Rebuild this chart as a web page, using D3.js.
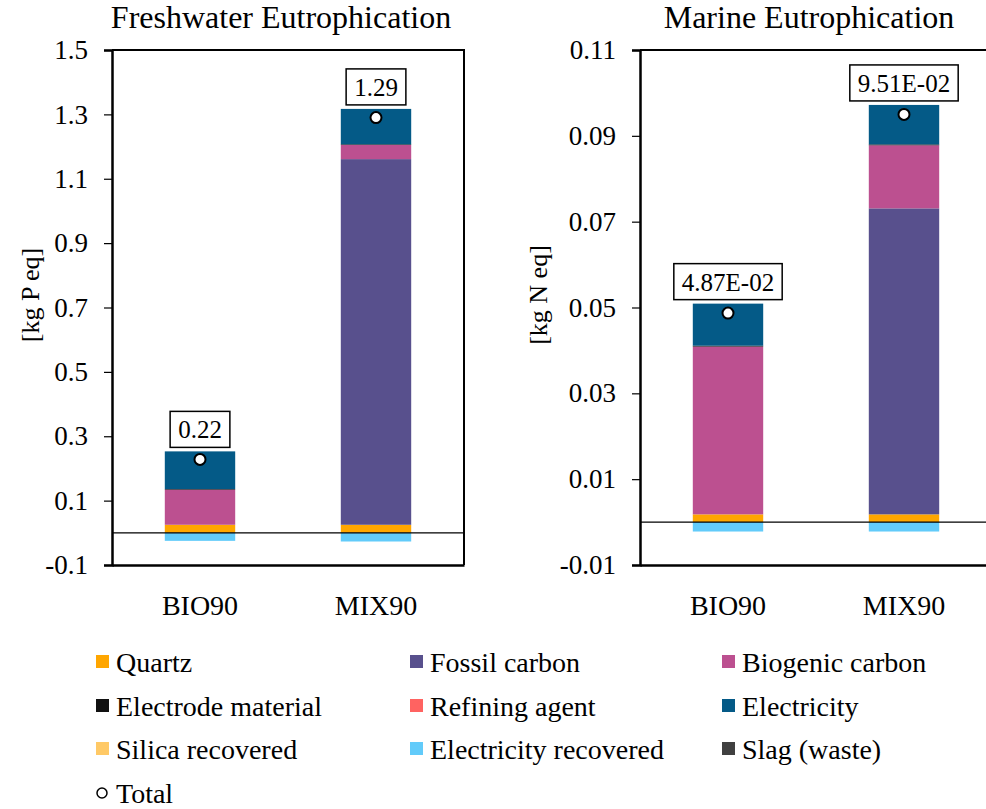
<!DOCTYPE html>
<html lang="en">
<head>
    <meta charset="UTF-8">
    <title>Eutrophication</title>
    <script src="https://cdn.jsdelivr.net/npm/d3@7"></script>
    <style>
        body {
            margin: 0;
            background: #fff;
        }
        svg text {
            font-family: "Liberation Serif", "Times New Roman", serif;
            fill: #000;
        }
    </style>
</head>
<body>
<div id="canvas"></div>
<script>
    const width = 986;
    const height = 809;
    const serif = "'Liberation Serif', 'Times New Roman', serif";

    const categories = ["BIO90", "MIX90"];
    const series = ["Quartz", "Fossil carbon", "Biogenic carbon", "Electrode material", "Refining agent",
        "Electricity", "Silica recovered", "Electricity recovered", "Slag (waste)"];
    const colors = ["#ffa600", "#58508d", "#bc5090", "#111111", "#ff6361",
        "#045a87", "#ffc966", "#62cbfa", "#404040"];

    // one row per series: [BIO90, MIX90]
    const freshwaterValues = [
        [0.025, 0.025], [0, 1.136], [0.109, 0.044], [0.002, 0.002], [0, 0],
        [0.117, 0.110], [0, 0], [-0.025, -0.027], [0, 0]
    ];
    const freshwaterLabels = ["0.22", "1.29"];
    const freshwaterTicks = [-0.1, 0.1, 0.3, 0.5, 0.7, 0.9, 1.1, 1.3, 1.5];

    const marineValues = [
        [0.0018, 0.0018], [0, 0.0713], [0.0391, 0.0147], [0.0002, 0.0002], [0, 0],
        [0.0098, 0.0092], [0, 0], [-0.0022, -0.0022], [0, 0]
    ];
    const marineLabels = ["4.87E-02", "9.51E-02"];
    const marineTicks = [-0.01, 0.01, 0.03, 0.05, 0.07, 0.09, 0.11];

    const panels = [
        {title: "Freshwater Eutrophication", unit: "[kg P eq]", values: freshwaterValues,
            labels: freshwaterLabels, ticks: freshwaterTicks, domain: [-0.1, 1.5], left: 112, unitX: 30, digits: 1},
        {title: "Marine Eutrophication", unit: "[kg N eq]", values: marineValues,
            labels: marineLabels, ticks: marineTicks, domain: [-0.01, 0.11], left: 640, unitX: 538, digits: 2}
    ];

    const plotTop = 50, plotBottom = 565, plotW = 352;

    const svg = d3.select("#canvas")
        .append("svg")
        .attr("width", width)
        .attr("height", height)
        .attr("viewBox", `0 0 ${width} ${height}`)
        .attr("font-family", serif);

    panels.forEach(p => {
        const g = svg.append("g");
        const x = d3.scaleBand().domain(categories)
            .range([p.left, p.left + plotW])
            .paddingInner(0.6).paddingOuter(0.3);
        const y = d3.scaleLinear().domain(p.domain).range([plotBottom, plotTop]);

        const rows = categories.map((c, i) => {
            const r = {cat: c};
            series.forEach((s, j) => r[s] = p.values[j][i]);
            return r;
        });
        const stacked = d3.stack().keys(series).offset(d3.stackOffsetDiverging)(rows);

        g.selectAll(".layer")
            .data(stacked)
            .enter()
            .append("g")
            .attr("fill", (d, i) => colors[i])
            .selectAll("rect")
            .data(d => d)
            .enter()
            .append("rect")
            .attr("x", d => x(d.data.cat))
            .attr("width", x.bandwidth())
            .attr("y", d => y(Math.max(d[0], d[1])))
            .attr("height", d => Math.abs(y(d[0]) - y(d[1])));

        // zero line
        g.append("line")
            .attr("x1", p.left).attr("x2", p.left + plotW)
            .attr("y1", y(0)).attr("y2", y(0))
            .attr("stroke", "#000").attr("stroke-width", 1.2);

        // frame: top and right
        g.append("path")
            .attr("d", `M${p.left},${plotTop}H${p.left + plotW}V${plotBottom}`)
            .attr("fill", "none").attr("stroke", "#000").attr("stroke-width", 2);

        const yAxis = g.append("g")
            .attr("transform", `translate(${p.left},0)`)
            .call(d3.axisLeft(y).tickValues(p.ticks).tickSize(8).tickPadding(16)
                .tickFormat(d => d.toFixed(p.digits)))
            .attr("font-family", serif);
        yAxis.select(".domain").attr("stroke-width", 2.5);
        yAxis.selectAll(".tick line").attr("stroke-width", 1.2);
        yAxis.selectAll("text").style("font-size", "27px").attr("fill", "#000");

        const xAxis = g.append("g")
            .attr("transform", `translate(0,${plotBottom})`)
            .call(d3.axisBottom(x).tickSize(0).tickPadding(30))
            .attr("font-family", serif);
        xAxis.select(".domain").attr("stroke-width", 2.5);
        xAxis.selectAll("text").style("font-size", "28px").attr("fill", "#000");

        // totals
        const totals = categories.map((c, i) => d3.sum(p.values, v => v[i]));
        const tops = categories.map((c, i) => d3.sum(p.values, v => Math.max(0, v[i])));

        g.selectAll(".total")
            .data(categories)
            .enter()
            .append("circle")
            .attr("cx", d => x(d) + x.bandwidth() / 2)
            .attr("cy", (d, i) => y(totals[i]))
            .attr("r", 5.5)
            .attr("fill", "#fff")
            .attr("stroke", "#000")
            .attr("stroke-width", 2);

        categories.forEach((c, i) => {
            const cx = x(c) + x.bandwidth() / 2;
            const by = y(tops[i]) - 4;
            const box = g.append("rect")
                .attr("y", by - 36).attr("height", 36)
                .attr("fill", "#fff").attr("stroke", "#000").attr("stroke-width", 1.5);
            const t = g.append("text")
                .attr("x", cx).attr("y", by - 9)
                .attr("text-anchor", "middle")
                .style("font-size", "25px")
                .text(p.labels[i]);
            const w = t.node().getComputedTextLength() + 16;
            box.attr("x", cx - w / 2).attr("width", w);
        });

        g.append("text")
            .attr("x", p.left + plotW / 2 - 7).attr("y", 28)
            .attr("text-anchor", "middle")
            .style("font-size", "32px")
            .text(p.title);

        g.append("text")
            .attr("transform", `translate(${p.unitX},295) rotate(-90)`)
            .attr("text-anchor", "middle")
            .attr("dy", "0.35em")
            .style("font-size", "26px")
            .text(p.unit);
    });

    // legend
    const legendX = [96, 410, 722];
    const legendY = [662, 706, 749];
    const legend = svg.append("g");
    series.forEach((s, i) => {
        const lx = legendX[i % 3], ly = legendY[Math.floor(i / 3)];
        legend.append("rect")
            .attr("x", lx).attr("y", ly - 7)
            .attr("width", 13).attr("height", 13)
            .attr("fill", colors[i]);
        legend.append("text")
            .attr("x", lx + 20).attr("y", ly)
            .attr("dy", "0.35em")
            .style("font-size", "28px")
            .text(s);
    });
    legend.append("circle")
        .attr("cx", 102).attr("cy", 793).attr("r", 5)
        .attr("fill", "#fff").attr("stroke", "#000").attr("stroke-width", 1.5);
    legend.append("text")
        .attr("x", 116).attr("y", 793)
        .attr("dy", "0.35em")
        .style("font-size", "28px")
        .text("Total");
</script>
</body>
</html>
